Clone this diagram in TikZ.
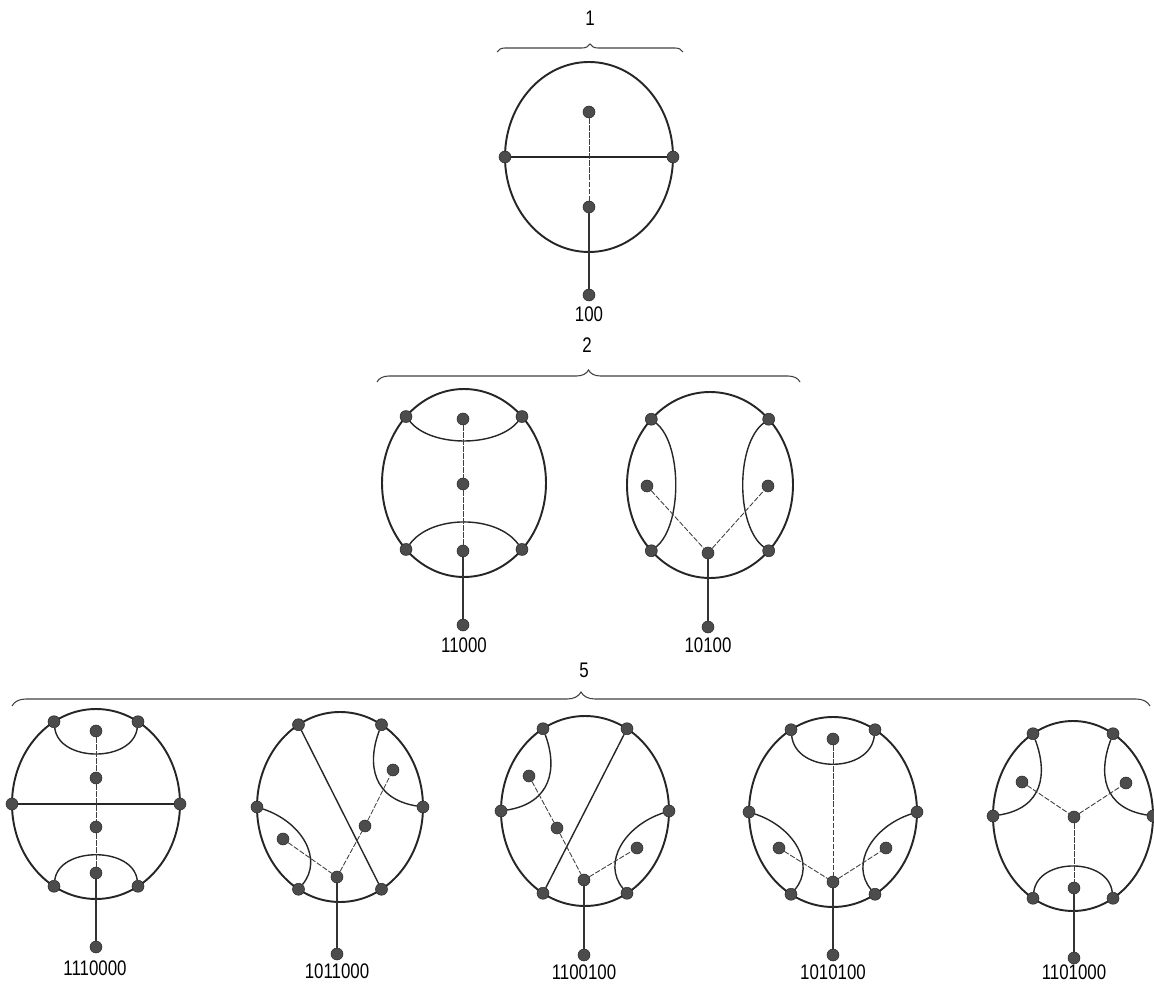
\documentclass[tikz,border=0pt]{standalone}
\usepackage{fontspec}
\newfontfamily\lblfont[FakeStretch=0.8]{Liberation Sans}
\usetikzlibrary{decorations.pathreplacing}

\begin{document}
\begin{tikzpicture}[
  x=0.2mm, y=-0.2mm,
  font=\lblfont\fontsize{12}{14}\selectfont,
  rim/.style={line width=1.1pt,draw=black!85},
  chord/.style={line width=0.8pt,draw=black!85},
  tree/.style={line width=0.5pt,draw=black!75,dash pattern=on 3pt off 1pt},
  stem/.style={line width=0.6pt,draw=black!80},
  dot/.style={circle,fill=black!70,draw=black!85,line width=0.3pt,
              inner sep=0pt,minimum size=2.4mm},
  lbl/.style={inner sep=1pt},
  brc/.style={decorate,decoration={brace,amplitude=#1},line width=0.6pt,draw=black!75}
]
\useasboundingbox (0,0) rectangle (1154,986);

% braces and counts
\coordinate (br1l) at (497,52);  \coordinate (br1r) at (683,52);
\coordinate (br2l) at (377,382); \coordinate (br2r) at (800,382);
\coordinate (br3l) at (12,706);  \coordinate (br3r) at (1150,706);
\draw[brc=1.6mm] (br1l) -- (br1r);
\draw[brc=2.4mm] (br2l) -- (br2r);
\draw[brc=2.8mm] (br3l) -- (br3r);
\node[lbl] (n1) at (590,18)  {1};
\node[lbl] (n2) at (587,345) {2};
\node[lbl] (n5) at (584,670) {5};

% 100
\coordinate (a) at (589,157);
\draw[rim] (a) ellipse [x radius=84,y radius=95];
\foreach \t in {0,180} \node[dot] (a\t) at ([shift={(\t:84 and 95)}]a) {};
\node[dot] (a1) at (589,112) {};
\node[dot] (a2) at (589,207) {};
\node[dot] (a3) at (589,295) {};
\draw[chord] (a180) -- (a0);
\draw[tree] (a1) -- (a2);
\draw[stem] (a2) -- (a3);
\node[lbl] (la) at (589,314) {100};

% 11000
\coordinate (b) at (464,483);
\draw[rim] (b) ellipse [x radius=82,y radius=94];
\foreach \t in {45,135,225,315} \node[dot] (b\t) at ([shift={(\t:82 and 94)}]b) {};
\draw[chord] (b225) .. controls +(25,31) and +(-25,31) .. (b315);
\draw[chord] (b135) .. controls +(25,-35) and +(-25,-35) .. (b45);
\node[dot] (b1) at (463,419) {};
\node[dot] (b2) at (463,484) {};
\node[dot] (b3) at (463,551) {};
\node[dot] (b4) at (463,625) {};
\draw[tree] (b1) -- (b2) -- (b3);
\draw[stem] (b3) -- (b4);
\node[lbl] (lb) at (464,645) {11000};

% 10100
\coordinate (c) at (710,485);
\draw[rim] (c) ellipse [x radius=83,y radius=93];
\foreach \t in {45,135,225,315} \node[dot] (c\t) at ([shift={(\t:83 and 93)}]c) {};
\draw[chord] (c225) .. controls +(31,25) and +(31,-25) .. (c135);
\draw[chord] (c315) .. controls +(-33,25) and +(-33,-25) .. (c45);
\node[dot] (c1) at (647,486) {};
\node[dot] (c2) at (768,486) {};
\node[dot] (c3) at (708,553) {};
\node[dot] (c4) at (708,627) {};
\draw[tree] (c1) -- (c3) -- (c2);
\draw[stem] (c3) -- (c4);
\node[lbl] (lc) at (708,645) {10100};

% 1110000
\coordinate (d) at (96,804);
\draw[rim] (d) ellipse [x radius=84,y radius=95];
\foreach \t in {0,60,...,300} \node[dot] (d\t) at ([shift={(\t:84 and 95)}]d) {};
\draw[chord] (d240) .. controls +(5,41) and +(-5,41) .. (d300);
\draw[chord] (d120) .. controls +(5,-40) and +(-5,-40) .. (d60);
\draw[chord] (d180) -- (d0);
\node[dot] (d1) at (96,731) {};
\node[dot] (d2) at (96,778) {};
\node[dot] (d3) at (96,827) {};
\node[dot] (d4) at (96,873) {};
\node[dot] (d5) at (96,947) {};
\draw[tree] (d1) -- (d2) -- (d3) -- (d4);
\draw[stem] (d4) -- (d5);
\node[lbl] (ld) at (95,968) {1110000};

% 1011000
\coordinate (e) at (340,807);
\draw[rim] (e) ellipse [x radius=83,y radius=95];
\foreach \t in {0,60,...,300} \node[dot] (e\t) at ([shift={(\t:83 and 95)}]e) {};
\draw[chord] (e240) -- (e60);
\draw[chord] (e300) .. controls +(-15,40) and +(-50,-8) .. (e0);
\draw[chord] (e180) .. controls +(45,15) and +(25,-30) .. (e120);
\node[dot] (e1) at (393,770) {};
\node[dot] (e2) at (283,839) {};
\node[dot] (e3) at (365,826) {};
\node[dot] (e4) at (337,877) {};
\node[dot] (e5) at (337,954) {};
\draw[tree] (e2) -- (e4) -- (e3) -- (e1);
\draw[stem] (e4) -- (e5);
\node[lbl] (le) at (337,971) {1011000};

% 1100100
\coordinate (f) at (585,811);
\draw[rim] (f) ellipse [x radius=84,y radius=95];
\foreach \t in {0,60,...,300} \node[dot] (f\t) at ([shift={(\t:84 and 95)}]f) {};
\draw[chord] (f300) -- (f120);
\draw[chord] (f240) .. controls +(15,40) and +(50,-8) .. (f180);
\draw[chord] (f0) .. controls +(-45,15) and +(-25,-30) .. (f60);
\node[dot] (f1) at (529,776) {};
\node[dot] (f2) at (557,828) {};
\node[dot] (f3) at (584,880) {};
\node[dot] (f4) at (637,848) {};
\node[dot] (f5) at (584,955) {};
\draw[tree] (f1) -- (f2) -- (f3) -- (f4);
\draw[stem] (f3) -- (f5);
\node[lbl] (lf) at (584,972) {1100100};

% 1010100
\coordinate (g) at (833,812);
\draw[rim] (g) ellipse [x radius=84,y radius=95];
\foreach \t in {0,60,...,300} \node[dot] (g\t) at ([shift={(\t:84 and 95)}]g) {};
\draw[chord] (g240) .. controls +(5,44) and +(-5,44) .. (g300);
\draw[chord] (g180) .. controls +(45,15) and +(25,-30) .. (g120);
\draw[chord] (g0) .. controls +(-45,15) and +(-25,-30) .. (g60);
\node[dot] (g1) at (833,739) {};
\node[dot] (g2) at (779,848) {};
\node[dot] (g3) at (886,848) {};
\node[dot] (g4) at (833,882) {};
\node[dot] (g5) at (833,955) {};
\draw[tree] (g1) -- (g4);
\draw[tree] (g2) -- (g4) -- (g3);
\draw[stem] (g4) -- (g5);
\node[lbl] (lg) at (833,972) {1010100};

% 1101000
\coordinate (h) at (1073,816);
\draw[rim] (h) ellipse [x radius=80,y radius=95];
\foreach \t in {0,60,...,300} \node[dot] (h\t) at ([shift={(\t:80 and 95)}]h) {};
\draw[chord] (h240) .. controls +(15,40) and +(50,-8) .. (h180);
\draw[chord] (h300) .. controls +(-15,40) and +(-50,-8) .. (h0);
\draw[chord] (h120) .. controls +(5,-41) and +(-5,-41) .. (h60);
\node[dot] (h1) at (1022,782) {};
\node[dot] (h2) at (1126,783) {};
\node[dot] (h3) at (1074,817) {};
\node[dot] (h4) at (1074,888) {};
\node[dot] (h5) at (1074,958) {};
\draw[tree] (h1) -- (h3) -- (h2);
\draw[tree] (h3) -- (h4);
\draw[stem] (h4) -- (h5);
\node[lbl] (lh) at (1074,972) {1101000};
\end{tikzpicture}
\end{document}
